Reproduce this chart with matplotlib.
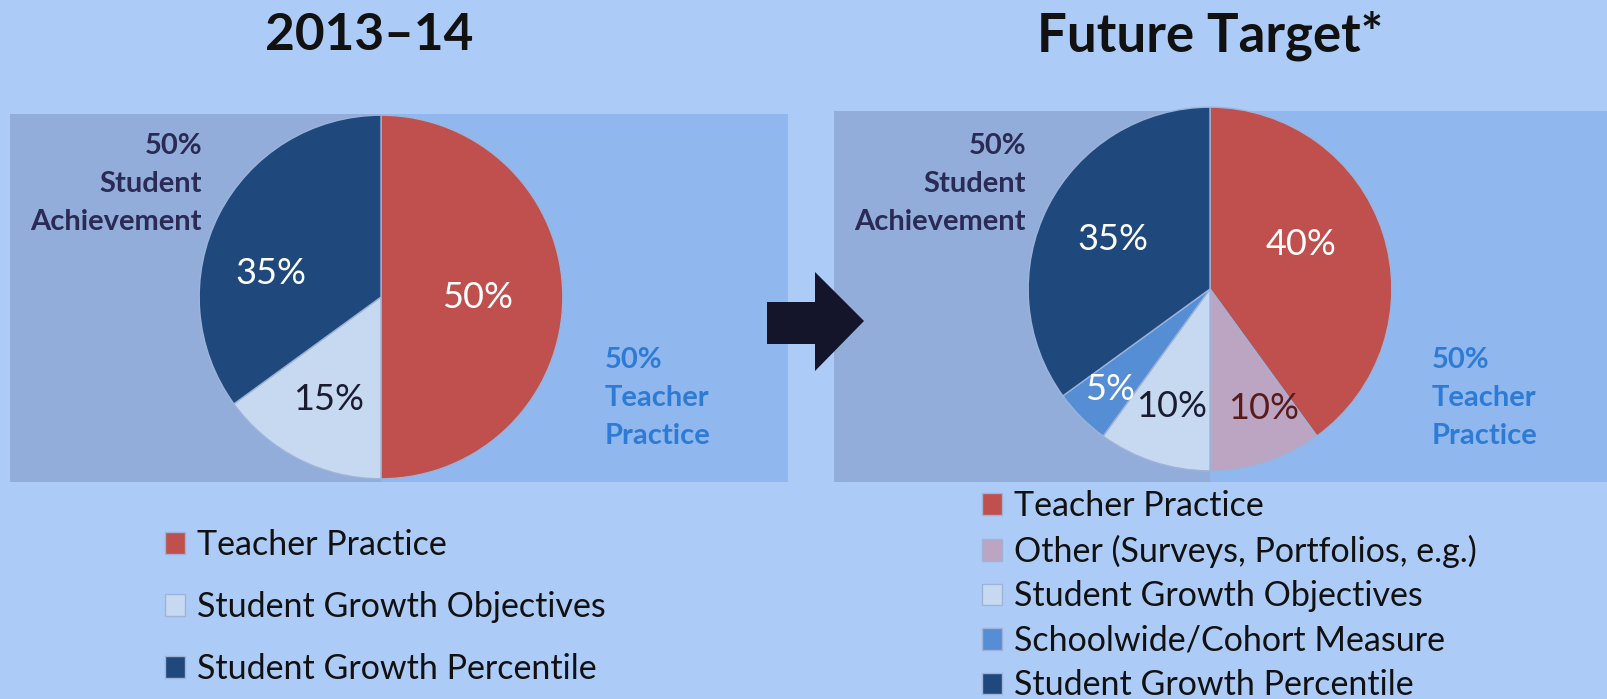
import numpy as np
import matplotlib.pyplot as plt
from matplotlib.patches import Rectangle, Polygon

# data
titles = ["2013\u201314", "Future Target*"]

left_labels = ["Teacher Practice", "Student Growth Objectives", "Student Growth Percentile"]
left_values = [50, 15, 35]
left_colors = ["#C0504D", "#C6D9F1", "#1F497D"]
left_pct_colors = ["white", "#1B1B30", "white"]

right_labels = ["Teacher Practice", "Other (Surveys, Portfolios, e.g.)", "Student Growth Objectives",
                "Schoolwide/Cohort Measure", "Student Growth Percentile"]
right_values = [40, 10, 10, 5, 35]
right_colors = ["#C0504D", "#BBA5C3", "#C6D9F1", "#558ED5", "#1F497D"]
right_pct_colors = ["white", "#5A1A1A", "#1B1B30", "white", "white"]

side_left = "50%\nStudent\nAchievement"
side_right = "50%\nTeacher\nPractice"

W, H = 1608, 699
plt.rcParams['font.family'] = ['Lato', 'DejaVu Sans']
fig = plt.figure(figsize=(W / 100, H / 100), dpi=100, facecolor="#ADCBF7")

bg = fig.add_axes([0, 0, 1, 1])
bg.set_xlim(0, W)
bg.set_ylim(H, 0)
bg.axis('off')

# panel backgrounds (darker left half, lighter right half)
for x0, xc, x1, y0, y1 in [(10, 381, 788, 114, 482), (834, 1210, 1608, 111, 482)]:
    bg.add_patch(Rectangle((x0, y0), xc - x0, y1 - y0, color="#93ADDA", lw=0))
    bg.add_patch(Rectangle((xc, y0), x1 - xc, y1 - y0, color="#90B8EE", lw=0))

# arrow
bg.add_patch(Polygon([(767, 302), (815, 302), (815, 272), (864, 321), (815, 371), (815, 344), (767, 344)],
                     closed=True, color="#14142A", lw=0))

# titles
bg.text(369, 36, titles[0], ha='center', va='center', fontsize=37, fontweight='bold', color="#111111")
bg.text(1210, 36, titles[1], ha='center', va='center', fontsize=38, fontweight='bold', color="#111111")

# side annotations
for xr, xl in [(202, 605), (1026, 1432)]:
    bg.text(xr, 184, side_left, ha='right', va='center', fontsize=21, fontweight='bold',
            color="#2A2A55", linespacing=1.55)
    bg.text(xl, 398, side_right, ha='left', va='center', fontsize=21, fontweight='bold',
            color="#2E7BD6", linespacing=1.55)


def draw_pie(cx, cy, values, colors, pct_colors, dists, shifts):
    size = 400
    ax = fig.add_axes([(cx - size / 2) / W, 1 - (cy + size / 2) / H, size / W, size / H])
    wedges, _ = ax.pie(values, colors=colors, startangle=90, counterclock=False,
                       wedgeprops=dict(edgecolor="#9DB3D8", linewidth=1))
    ax.set_xlim(-1.1, 1.1)
    ax.set_ylim(-1.1, 1.1)
    ax.set_aspect('equal')
    ax.axis('off')
    for w, v, c, d, s in zip(wedges, values, pct_colors, dists, shifts):
        ang = np.deg2rad((w.theta1 + w.theta2) / 2 + s)
        ax.text(d * np.cos(ang), d * np.sin(ang), f"{v}%", ha='center', va='center',
                fontsize=26, color=c)
    return ax, wedges


axl, wl = draw_pie(381, 297, left_values, left_colors, left_pct_colors,
                   [0.53, 0.63, 0.62], [0, 0, 15])
axr, wr = draw_pie(1210, 289, right_values, right_colors, right_pct_colors,
                   [0.56, 0.72, 0.68, 0.78, 0.6], [8, 6, 0, 0, 0])

fig.legend(wl, left_labels, loc='upper left', bbox_to_anchor=(165 / W, 1 - 529 / H),
           frameon=False, fontsize=24.5, handlelength=0.6, handleheight=0.6, handletextpad=0.35,
           labelspacing=0.88, labelcolor="#111111", borderaxespad=0, borderpad=0)
fig.legend(wr, right_labels, loc='upper left', bbox_to_anchor=(982 / W, 1 - 490 / H),
           frameon=False, fontsize=24.5, handlelength=0.6, handleheight=0.6, handletextpad=0.35,
           labelspacing=0.37, labelcolor="#111111", borderaxespad=0, borderpad=0)

fig.savefig("out.png", dpi=100, facecolor=fig.get_facecolor())
